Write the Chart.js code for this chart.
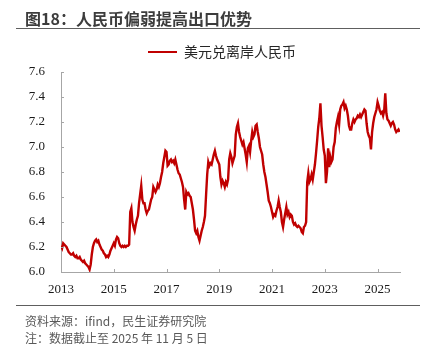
<!DOCTYPE html>
<html>
<head>
<meta charset="utf-8">
<script src="https://cdn.jsdelivr.net/npm/chart.js@4.4.1/dist/chart.umd.min.js"></script>
<style>
html,body{margin:0;padding:0;background:#fff;}
#wrap{position:relative;width:429px;height:344px;overflow:hidden;}
#title{position:absolute;left:25px;top:7px;font:bold 16px "Noto Sans CJK SC";color:#3c3c3c;white-space:nowrap;line-height:22px;}
.rule{position:absolute;left:16px;width:404px;height:0;border-top:1.5px solid #5e5e5e;}
.src{position:absolute;left:25px;font:12px "Noto Sans CJK SC";color:#595959;white-space:nowrap;line-height:16px;}
canvas{position:absolute;left:0;top:0;}
</style>
</head>
<body>
<div id="wrap">
  <canvas id="c" width="429" height="344"></canvas>
  <div id="title">图18：人民币偏弱提高出口优势</div>
  <div class="rule" style="top:28px"></div>
  <div class="rule" style="top:305px"></div>
  <div class="src" style="top:313px">资料来源：ifind，民生证券研究院</div>
  <div class="src" style="top:330px">注：数据截止至 2025 年 11 月 5 日</div>
</div>
<script>
// ---- data (semi-monthly readings of USD/CNH) ----
const seriesName = '美元兑离岸人民币';
const startYear = 2013;
const pointsPerYear = 24;
const endYear = 2025.85; // data ends 2025-11-05
const v2013 = [6.21,6.19,6.23,6.22,6.21,6.20,6.18,6.16,6.15,6.14,6.14,6.15,6.13,6.12,6.13,6.11,6.11,6.12,6.10,6.09,6.08,6.09,6.07,6.06];
const v2014 = [6.05,6.04,6.02,6.06,6.14,6.20,6.23,6.25,6.26,6.24,6.25,6.22,6.20,6.18,6.17,6.15,6.14,6.12,6.13,6.12,6.14,6.17,6.19,6.21];
const v2015 = [6.23,6.21,6.26,6.28,6.27,6.23,6.21,6.20,6.21,6.20,6.21,6.20,6.21,6.21,6.22,6.48,6.51,6.40,6.36,6.33,6.38,6.42,6.45,6.55];
const v2016 = [6.62,6.69,6.58,6.55,6.55,6.50,6.47,6.49,6.50,6.54,6.58,6.60,6.68,6.66,6.64,6.66,6.70,6.68,6.71,6.76,6.80,6.87,6.92,6.97];
const v2017 = [6.96,6.85,6.86,6.89,6.90,6.88,6.89,6.87,6.90,6.86,6.82,6.79,6.78,6.75,6.72,6.68,6.58,6.50,6.64,6.62,6.63,6.61,6.60,6.55];
const v2018 = [6.50,6.42,6.33,6.31,6.33,6.28,6.25,6.29,6.33,6.36,6.40,6.45,6.62,6.78,6.88,6.85,6.87,6.86,6.90,6.94,6.97,6.93,6.90,6.88];
const v2019 = [6.86,6.76,6.70,6.73,6.71,6.68,6.72,6.70,6.74,6.90,6.95,6.92,6.87,6.90,6.93,7.10,7.16,7.19,7.12,7.08,7.05,7.02,7.04,6.99];
const v2020 = [6.94,6.88,6.99,7.01,6.96,7.05,7.12,7.08,7.10,7.17,7.18,7.12,7.07,7.00,6.97,6.94,6.86,6.80,6.76,6.70,6.64,6.57,6.55,6.52];
const v2021 = [6.48,6.44,6.46,6.45,6.49,6.52,6.57,6.52,6.48,6.40,6.36,6.42,6.47,6.52,6.46,6.48,6.44,6.46,6.45,6.40,6.38,6.39,6.37,6.36];
const v2022 = [6.37,6.36,6.35,6.32,6.31,6.36,6.37,6.40,6.72,6.79,6.72,6.74,6.78,6.74,6.80,6.86,6.95,7.05,7.16,7.23,7.35,7.17,7.08,6.98];
const v2023 = [6.93,6.71,6.80,6.99,6.84,6.92,6.88,6.90,7.00,7.04,7.15,7.20,7.24,7.18,7.30,7.33,7.34,7.36,7.31,7.33,7.30,7.25,7.17,7.14];
const v2024 = [7.14,7.19,7.22,7.20,7.22,7.23,7.25,7.24,7.26,7.24,7.26,7.28,7.30,7.29,7.19,7.12,7.09,7.07,6.98,7.12,7.19,7.24,7.27,7.30];
const v2025 = [7.36,7.33,7.29,7.27,7.28,7.25,7.29,7.43,7.27,7.22,7.21,7.19,7.17,7.19,7.20,7.18,7.14,7.12,7.13,7.14,7.12];
const xTickYears = [2013,2015,2017,2019,2021,2023,2025];
const yTickValues = [6.0,6.2,6.4,6.6,6.8,7.0,7.2,7.4,7.6];

const usdcnh = [].concat(v2013,v2014,v2015,v2016,v2017,v2018,v2019,v2020,v2021,v2022,v2023,v2024,v2025);
const points = usdcnh.map((v,i) => ({x: startYear + i / pointsPerYear, y: v}));

const RED = '#C00000';
const AXIS = '#a6a6a6';

const innerTicks = {
  id: 'innerTicks',
  afterDraw(chart) {
    const {ctx, chartArea: a, scales: {x, y}} = chart;
    ctx.save();
    ctx.strokeStyle = AXIS; ctx.lineWidth = 1;
    ctx.beginPath();
    y.ticks.forEach(t => { const py = Math.round(y.getPixelForValue(t.value)) + 0.5; ctx.moveTo(a.left, py); ctx.lineTo(a.left + 3, py); });
    x.ticks.forEach(t => { const px = Math.round(x.getPixelForValue(t.value)) + 0.5; ctx.moveTo(px, a.bottom); ctx.lineTo(px, a.bottom - 3); });
    ctx.stroke();
    ctx.restore();
  }
};

const legendLayout = {
  id: 'legendLayout',
  beforeUpdate(chart) {
    const lg = chart.legend;
    if (lg && !lg._patched) {
      const f = lg.fit;
      lg.fit = function() { f.call(this); this.height = 72; };
      lg._patched = true;
    }
  },
  afterLayout(chart) {
    const lg = chart.legend;
    if (!lg || !lg.lineWidths) return;
    const p = lg.options.labels.padding;
    const x0 = (lg.left + p + lg.right - lg.lineWidths[0]) / 2;
    const d = 148 - x0;
    lg.left += d; lg.right += d;
  }
};

new Chart(document.getElementById('c'), {
  type: 'line',
  data: {
    datasets: [{
      label: seriesName,
      data: points,
      borderColor: RED,
      backgroundColor: RED,
      borderWidth: 2.4,
      pointRadius: 0,
      tension: 0,
      fill: false
    }]
  },
  options: {
    responsive: false,
    animation: false,
    devicePixelRatio: 1,
    layout: {padding: {left: 0, right: 29, top: 0, bottom: 0}},
    plugins: {
      tooltip: {enabled: false},
      legend: {
        display: true,
        position: 'top',
        labels: {
          boxWidth: 29,
          boxHeight: 2,
          padding: 45,
          color: '#262626',
          font: {family: '"Noto Sans CJK SC"', size: 14},
          generateLabels(chart) {
            return Chart.defaults.plugins.legend.labels.generateLabels(chart).map(l => Object.assign(l, {lineWidth: 0, fillStyle: RED}));
          }
        }
      }
    },
    scales: {
      x: {
        type: 'linear',
        min: startYear,
        max: endYear,
        afterBuildTicks: s => { s.ticks = xTickYears.map(v => ({value: v})); },
        afterFit: s => { s.height = 72; },
        grid: {display: false, drawTicks: false},
        border: {display: true, color: AXIS, width: 1},
        ticks: {padding: 10, color: '#1a1a1a', font: {family: '"Liberation Serif"', size: 13}, maxRotation: 0, autoSkip: false, callback: v => String(v)}
      },
      y: {
        type: 'linear',
        min: 6.0,
        max: 7.6,
        afterBuildTicks: s => { s.ticks = yTickValues.map(v => ({value: v})); },
        afterFit: s => { s.width = 61; },
        grid: {display: false, drawTicks: false},
        border: {display: true, color: AXIS, width: 1},
        ticks: {padding: 16, color: '#1a1a1a', font: {family: '"Liberation Serif"', size: 13}, callback: v => Number(v).toFixed(1)}
      }
    }
  },
  plugins: [innerTicks, legendLayout]
});
</script>
</body>
</html>
